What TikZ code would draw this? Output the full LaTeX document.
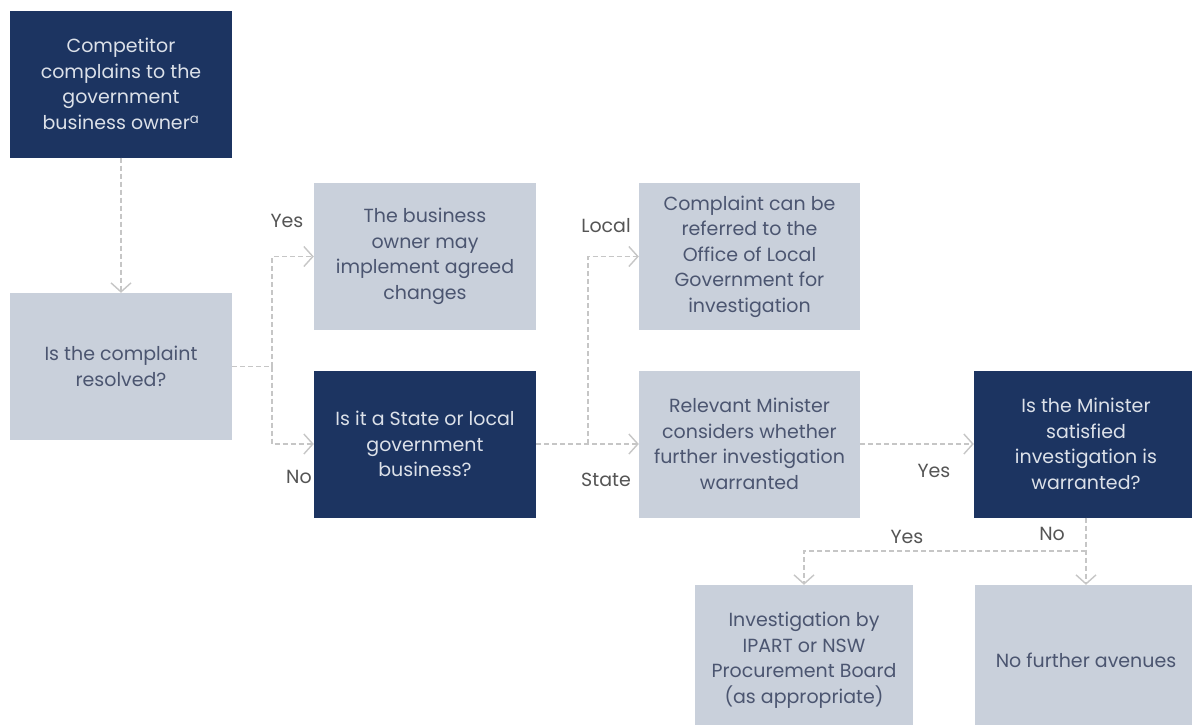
\documentclass[tikz,border=0pt]{standalone}
\usepackage{fontspec}
\setmainfont{Poppins}
\usetikzlibrary{arrows.meta,positioning}
\definecolor{navy}{HTML}{1C3461}
\definecolor{slate}{HTML}{C9D0DB}
\definecolor{darktext}{HTML}{4B5570}
\definecolor{lighttext}{HTML}{DCE1E9}
\definecolor{linegray}{HTML}{C6C6C6}
\definecolor{labelgray}{HTML}{555555}

\begin{document}
\begin{tikzpicture}[x=1pt,y=-1pt,>={Straight Barb[length=9pt,width=20pt]},
		dark box/.style={rectangle,fill=navy,text=lighttext,align=center,
			minimum width=222pt,minimum height=147pt,inner sep=0pt,
			font=\fontsize{19}{25.5}\selectfont},
		light box/.style={dark box,fill=slate,text=darktext},
		flow/.style={draw=linegray,line width=1.4pt,dash pattern=on 5pt off 3pt},
		flow label/.style={text=labelgray,font=\fontsize{19}{22}\selectfont}]
		
		\clip (0,0) rectangle (1192,724);
		\fill[white] (0,0) rectangle (1192,724);
		
		\node[dark box] (complain) at (121,84) {Competitor\\complains to the\\government\\business owner\textsuperscript{a}};
		\node[light box] (resolved) at (121,366.5) {Is the complaint\\resolved?};
		\node[light box] (agreed) at (425,256.5) {The business\\owner may\\implement agreed\\changes};
		\node[dark box] (statelocal) at (425,444) {Is it a State or local\\government\\business?};
		\node[light box,minimum width=221pt] (olg) at (749.5,256.5) {Complaint can be\\referred to the\\Office of Local\\Government for\\investigation};
		\node[light box,minimum width=221pt] (minister) at (749.5,444) {Relevant Minister\\considers whether\\further investigation\\warranted};
		\node[dark box,minimum width=224pt] (satisfied) at (1086,444) {Is the Minister\\satisfied\\investigation is\\warranted?};
		\node[light box,minimum width=218pt,minimum height=150pt] (ipart) at (804,660) {Investigation by\\IPART or NSW\\Procurement Board\\(as appropriate)};
		\node[light box,minimum width=223pt,minimum height=150pt] (none) at (1086,660) {No further avenues};
		
		% branch points
		\coordinate (fork1) at (272,366.5);
		\coordinate (fork2) at (588,444);
		\coordinate (fork3) at (1086,551);
		
		\draw[flow,->] (complain) -- (resolved);
		\draw[flow] (resolved.east) -- (fork1);
		\draw[flow,->] (fork1) |- (agreed.west);
		\draw[flow,->] (fork1) |- (statelocal.west);
		\draw[flow,->] (statelocal.east) -- (minister.west);
		\draw[flow,->] (fork2) |- (olg.west);
		\draw[flow,->] (minister.east) -- (satisfied.west);
		\draw[flow,->] (satisfied.south) -- (none.north);
		\draw[flow,->] (fork3) -| (ipart.north);
		
		\node[flow label] (yes1) at (287,221) {Yes};
		\node[flow label] (no1) at (299,477) {No};
		\node[flow label] (local) at (606,226) {Local};
		\node[flow label] (state) at (606,480) {State};
		\node[flow label] (yes2) at (934,471) {Yes};
		\node[flow label] (yes3) at (907,537) {Yes};
		\node[flow label] (no2) at (1052,534) {No};
\end{tikzpicture}
\end{document}
